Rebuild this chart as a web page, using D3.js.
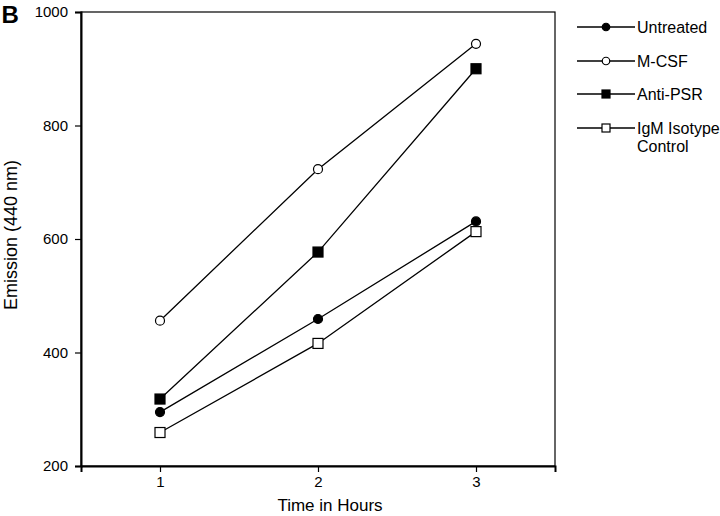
<!DOCTYPE html>
<html><head><meta charset="utf-8">
<script src="https://cdn.jsdelivr.net/npm/d3@7"></script>
<style>body{margin:0;background:#fff}svg{display:block}text{font-family:"Liberation Sans",Arial,sans-serif;fill:#000}</style>
</head><body>
<script>
const hours = [1, 2, 3];
const yTicks = [200, 400, 600, 800, 1000];
const seriesNames = ["Untreated", "M-CSF", "Anti-PSR", "IgM Isotype Control"];
const untreated = [295, 459, 631];
const mcsf = [456, 723, 944];
const antiPSR = [318, 577, 900];
const igm = [259, 416, 613];
const markerTypes = ["circleFilled", "circleOpen", "squareFilled", "squareOpen"];

const series = [untreated, mcsf, antiPSR, igm].map((v, i) => ({name: seriesNames[i], values: v, marker: markerTypes[i]}));

const W = 720, H = 516;
const svg = d3.select("body").append("svg").attr("width", W).attr("height", H);
const pL = 81, pR = 555, pT = 12, pB = 466;
const x = d3.scaleLinear().domain([0.5, 3.5]).range([pL, pR]);
const y = d3.scaleLinear().domain([200, 1000]).range([pB, pT]);

// frame
svg.append("rect").attr("x", pL).attr("y", pT).attr("width", pR - pL).attr("height", pB - pT)
  .attr("fill", "none").attr("stroke", "#000").attr("stroke-width", 1.2);

const yAxis = svg.append("g").attr("transform", `translate(${pL},0)`)
  .call(d3.axisLeft(y).tickValues(yTicks).tickSize(6).tickPadding(7).tickFormat(d3.format("d")));
const xAxis = svg.append("g").attr("transform", `translate(0,${pB})`)
  .call(d3.axisBottom(x).tickValues(hours).tickSize(6).tickPadding(4).tickFormat(d3.format("d")));
[yAxis, xAxis].forEach(a => {
  a.select(".domain").attr("stroke-width", 2);
  a.selectAll(".tick line").attr("stroke-width", 1.2);
  a.selectAll("text").style("font-size", "15px").style("font-family", '"Liberation Sans",Arial,sans-serif');
});

svg.append("text").attr("x", 330).attr("y", 511).attr("text-anchor", "middle")
  .style("font-size", "17px").text("Time in Hours");
svg.append("text").attr("transform", `translate(17,235) rotate(-90)`).attr("text-anchor", "middle")
  .style("font-size", "18px").text("Emission (440 nm)");
svg.append("text").attr("x", 1.5).attr("y", 23).style("font-size", "24px").style("font-weight", "bold").text("B");

function drawMarker(g, type, cx, cy, s) {
  if (type.startsWith("circle")) {
    g.append("circle").attr("cx", cx).attr("cy", cy).attr("r", s / 2)
      .attr("fill", type === "circleFilled" ? "#000" : "#fff").attr("stroke", "#000").attr("stroke-width", 1.2);
  } else {
    g.append("rect").attr("x", cx - s / 2).attr("y", cy - s / 2).attr("width", s).attr("height", s)
      .attr("fill", type === "squareFilled" ? "#000" : "#fff").attr("stroke", "#000").attr("stroke-width", 1.2);
  }
}

const line = d3.line().x((d, i) => x(hours[i])).y(d => y(d));
series.forEach(s => {
  svg.append("path").attr("d", line(s.values)).attr("fill", "none").attr("stroke", "#000").attr("stroke-width", 1.3);
});
series.forEach(s => {
  const g = svg.append("g");
  s.values.forEach((v, i) => drawMarker(g, s.marker, x(hours[i]), y(v), s.marker.startsWith("circle") ? 9 : 10));
});

// legend
const legY = [27, 61, 94, 128];
series.forEach((s, i) => {
  const g = svg.append("g");
  g.append("line").attr("x1", 577).attr("x2", 635).attr("y1", legY[i]).attr("y2", legY[i]).attr("stroke", "#000").attr("stroke-width", 1.3);
  drawMarker(g, s.marker, 606, legY[i], s.marker.startsWith("circle") ? 7.5 : 8);
  const t = g.append("text").attr("x", 637).attr("y", legY[i] + 6).style("font-size", "16px");
  if (s.name === "IgM Isotype Control") {
    t.append("tspan").attr("x", 637).text("IgM Isotype");
    t.append("tspan").attr("x", 637).attr("dy", 18).text("Control");
  } else t.text(s.name);
});
</script>
</body></html>
